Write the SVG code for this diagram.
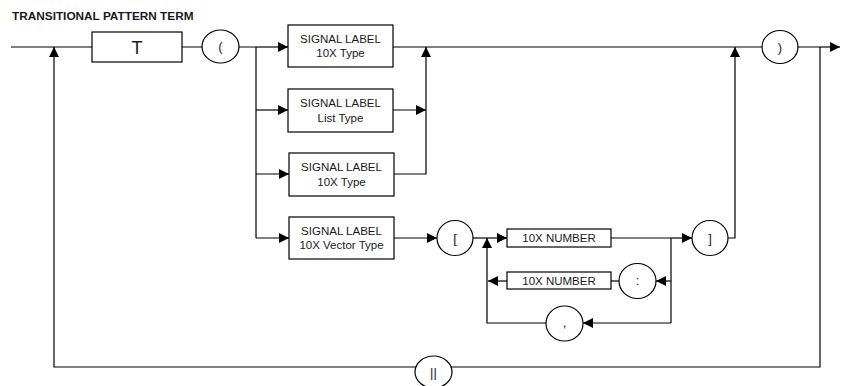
<svg xmlns="http://www.w3.org/2000/svg" width="842" height="386" viewBox="0 0 842 386">
<style>
.ln{fill:none;stroke:#000;stroke-width:1.2}
.arr{fill:none;stroke:#000;stroke-width:1.2;marker-end:url(#ah)}
.box{fill:#fff;stroke:#000;stroke-width:1.2}
.t{font-family:"Liberation Sans",Arial,sans-serif;font-size:11.5px;fill:#1a1a1a;text-anchor:middle}
.c{font-family:"Liberation Sans",Arial,sans-serif;font-size:13px;fill:#1a1a1a;text-anchor:middle}
</style>
<defs>
<marker id="ah" markerUnits="userSpaceOnUse" markerWidth="11" markerHeight="11" refX="10" refY="5" orient="auto">
<path d="M0,0 L10,5 L0,10 z" fill="#000"/>
</marker>
</defs>
<rect width="842" height="386" fill="#fff"/>
<text x="12" y="20" style="font-family:'Liberation Sans',Arial,sans-serif;font-size:11.8px;font-weight:bold" fill="#1a1a1a">TRANSITIONAL PATTERN TERM</text>
<g id="connectors">
<line class="ln" x1="11" y1="47" x2="256" y2="47"/>
<line class="arr" x1="256" y1="47" x2="288" y2="47"/>
<polyline class="ln" points="256,47 256,238"/>
<line class="arr" x1="256" y1="110" x2="288" y2="110"/>
<line class="arr" x1="256" y1="174" x2="289" y2="174"/>
<line class="arr" x1="256" y1="238" x2="289" y2="238"/>
<line class="ln" x1="393" y1="47" x2="820" y2="47"/>
<line class="arr" x1="393" y1="110" x2="426" y2="110"/>
<polyline class="arr" points="394,174 426,174 426,47"/>
<line class="arr" x1="394" y1="238" x2="437" y2="238"/>
<line class="ln" x1="473" y1="238" x2="487" y2="238"/>
<line class="arr" x1="487" y1="238" x2="507" y2="238"/>
<line class="ln" x1="611" y1="238" x2="671" y2="238"/>
<line class="arr" x1="671" y1="238" x2="692" y2="238"/>
<polyline class="arr" points="728,238 735,238 735,47"/>
<polyline class="ln" points="671,238 671,323"/>
<line class="arr" x1="671" y1="281" x2="656" y2="281"/>
<line class="ln" x1="619" y1="281" x2="611" y2="281"/>
<line class="arr" x1="507" y1="281" x2="488" y2="281"/>
<line class="arr" x1="671" y1="323" x2="583" y2="323"/>
<polyline class="arr" points="546,323 487,323 487,238"/>
<line class="arr" x1="820" y1="47" x2="840" y2="47"/>
<polyline class="arr" points="820,47 820,367 54,367 54,47"/>
</g>
<g id="node-T"><rect class="box" x="92" y="32" width="90" height="30"/><text x="137" y="53.5" style="font-family:'Liberation Sans',Arial,sans-serif;font-size:18px;text-anchor:middle" fill="#1a1a1a">T</text></g>
<g id="node-lparen"><ellipse class="box" cx="220.5" cy="46.5" rx="18.5" ry="16.5"/><text class="c" x="220.5" y="51">(</text></g>
<g id="node-sl1"><rect class="box" x="288" y="25" width="105" height="42"/><text class="t" x="340.5" y="42.7">SIGNAL LABEL</text><text class="t" x="340.5" y="57">10X Type</text></g>
<g id="node-sl2"><rect class="box" x="288" y="89" width="105" height="43"/><text class="t" x="340.5" y="107.2">SIGNAL LABEL</text><text class="t" x="340.5" y="121.5">List Type</text></g>
<g id="node-sl3"><rect class="box" x="289" y="153" width="105" height="43"/><text class="t" x="341.5" y="171.2">SIGNAL LABEL</text><text class="t" x="341.5" y="185.5">10X Type</text></g>
<g id="node-sl4"><rect class="box" x="289" y="217" width="105" height="42"/><text class="t" x="341.5" y="234.7">SIGNAL LABEL</text><text class="t" x="341.5" y="249">10X Vector Type</text></g>
<g id="node-lbracket"><ellipse class="box" cx="455" cy="238" rx="18" ry="17.5"/><text class="c" x="455" y="242.5">[</text></g>
<g id="node-num1"><rect class="box" x="507" y="229" width="104" height="18"/><text class="t" x="559" y="242.2">10X NUMBER</text></g>
<g id="node-rbracket"><ellipse class="box" cx="710" cy="238" rx="18" ry="17.5"/><text class="c" x="710" y="242.5">]</text></g>
<g id="node-num2"><rect class="box" x="507" y="272" width="104" height="17"/><text class="t" x="559" y="284.8">10X NUMBER</text></g>
<g id="node-colon"><ellipse class="box" cx="637.5" cy="281" rx="18.5" ry="17.5"/><text class="c" x="637.5" y="285">:</text></g>
<g id="node-comma"><ellipse class="box" cx="564.5" cy="323.5" rx="18.5" ry="17.5"/><text class="c" x="564.5" y="327">,</text></g>
<g id="node-rparen"><ellipse class="box" cx="780" cy="47" rx="18" ry="16.5"/><text class="c" x="780" y="51.5">)</text></g>
<g id="node-bars"><ellipse class="box" cx="433.5" cy="372" rx="18.5" ry="16"/><text class="c" x="433.5" y="377">||</text></g>
</svg>
